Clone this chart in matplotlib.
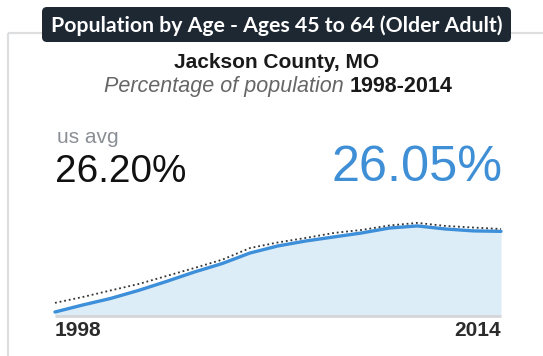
import matplotlib
matplotlib.use("Agg")
import matplotlib.pyplot as plt
from matplotlib.patches import FancyBboxPatch

# Share of population aged 45-64, Jackson County MO vs. US average
years = list(range(1998, 2015))
county_pct = [21.01, 21.45, 21.86, 22.36, 22.92, 23.51, 24.04, 24.70, 25.14,
              25.45, 25.70, 25.95, 26.26, 26.39, 26.20, 26.08, 26.05]
us_pct = [21.58, 21.95, 22.36, 22.76, 23.26, 23.76, 24.28, 25.01, 25.36,
          25.64, 25.95, 26.14, 26.42, 26.58, 26.39, 26.29, 26.20]

title = "Population by Age - Ages 45 to 64 (Older Adult)"
place = "Jackson County, MO"
subtitle_a = "Percentage of population"
subtitle_b = f"{years[0]}-{years[-1]}"
us_label = "us avg"

y_floor, y_top = 20.76, 27.01

W, H = 543, 356
fig = plt.figure(figsize=(W / 100, H / 100), dpi=100)
fig.patch.set_facecolor("white")

# Overlay in pixel units for the card frame and the text
bg = fig.add_axes([0, 0, 1, 1])
bg.set_xlim(0, W)
bg.set_ylim(H, 0)
bg.axis("off")

border = "#dcdee0"
bg.plot([8, 8], [33, H + 5], color=border, lw=1.6, solid_capstyle="butt")
bg.plot([8, W + 5], [33, 33], color=border, lw=1.6, solid_capstyle="butt")

box = FancyBboxPatch((42, 7), 469, 35, boxstyle="round,pad=0,rounding_size=5",
                     facecolor="#1e2833", edgecolor="none", zorder=3)
bg.add_patch(box)
bg.text(277, 32.5, title, color="white", fontsize=15.3, fontweight="bold",
        family="Lato", ha="center", va="baseline", zorder=4)

bg.text(277, 68, place, color="#1a1a1a", fontsize=15, family="Liberation Sans",
        fontweight="bold", ha="center", va="baseline")

t1 = bg.text(0, 92, subtitle_a + " ", color="#666666", fontsize=15.5,
             family="Liberation Sans", style="italic", ha="left", va="baseline")
t2 = bg.text(0, 92, subtitle_b, color="#1a1a1a", fontsize=15.5,
             family="Liberation Sans", fontweight="bold", ha="left", va="baseline")
fig.canvas.draw()
r = fig.canvas.get_renderer()
w1 = t1.get_window_extent(r).width
w2 = t2.get_window_extent(r).width
x0 = 278 - (w1 + w2) / 2
t1.set_x(x0)
t2.set_x(x0 + w1)

bg.text(57, 143, us_label, color="#8a8f96", fontsize=15, family="Liberation Sans",
        ha="left", va="baseline")
bg.text(55, 182, f"{us_pct[-1]:.2f}%", color="#111111", fontsize=27.8,
        family="Liberation Sans", ha="left", va="baseline")
bg.text(502, 181, f"{county_pct[-1]:.2f}%", color="#3f8fd6", fontsize=36.3,
        family="Liberation Sans", ha="right", va="baseline")

bg.text(55, 336, str(years[0]), color="#2b2b2b", fontsize=15, family="Liberation Sans",
        fontweight="bold", ha="left", va="baseline")
bg.text(501, 336, str(years[-1]), color="#2b2b2b", fontsize=15, family="Liberation Sans",
        fontweight="bold", ha="right", va="baseline")

# Area chart
ax = fig.add_axes([55 / W, (H - 316) / H, 446 / W, 100 / H])
ax.set_xlim(years[0], years[-1])
ax.set_ylim(y_floor, y_top)
ax.axis("off")
ax.patch.set_alpha(0)
ax.fill_between(years, county_pct, y_floor, color="#ddedf8", lw=0, zorder=1)
ax.plot(years, county_pct, color="#3d8fd9", lw=2.4, solid_capstyle="round",
        clip_on=False, zorder=3)
ax.plot(years, us_pct, color="#333333", lw=1.3, linestyle=(0, (1, 1.6)),
        clip_on=False, zorder=4)
ax.plot([years[0], years[-1]], [y_floor, y_floor], color="#d4d6d8", lw=2,
        clip_on=False, zorder=2, solid_capstyle="butt")

fig.savefig("out.png", dpi=100, facecolor="white")
